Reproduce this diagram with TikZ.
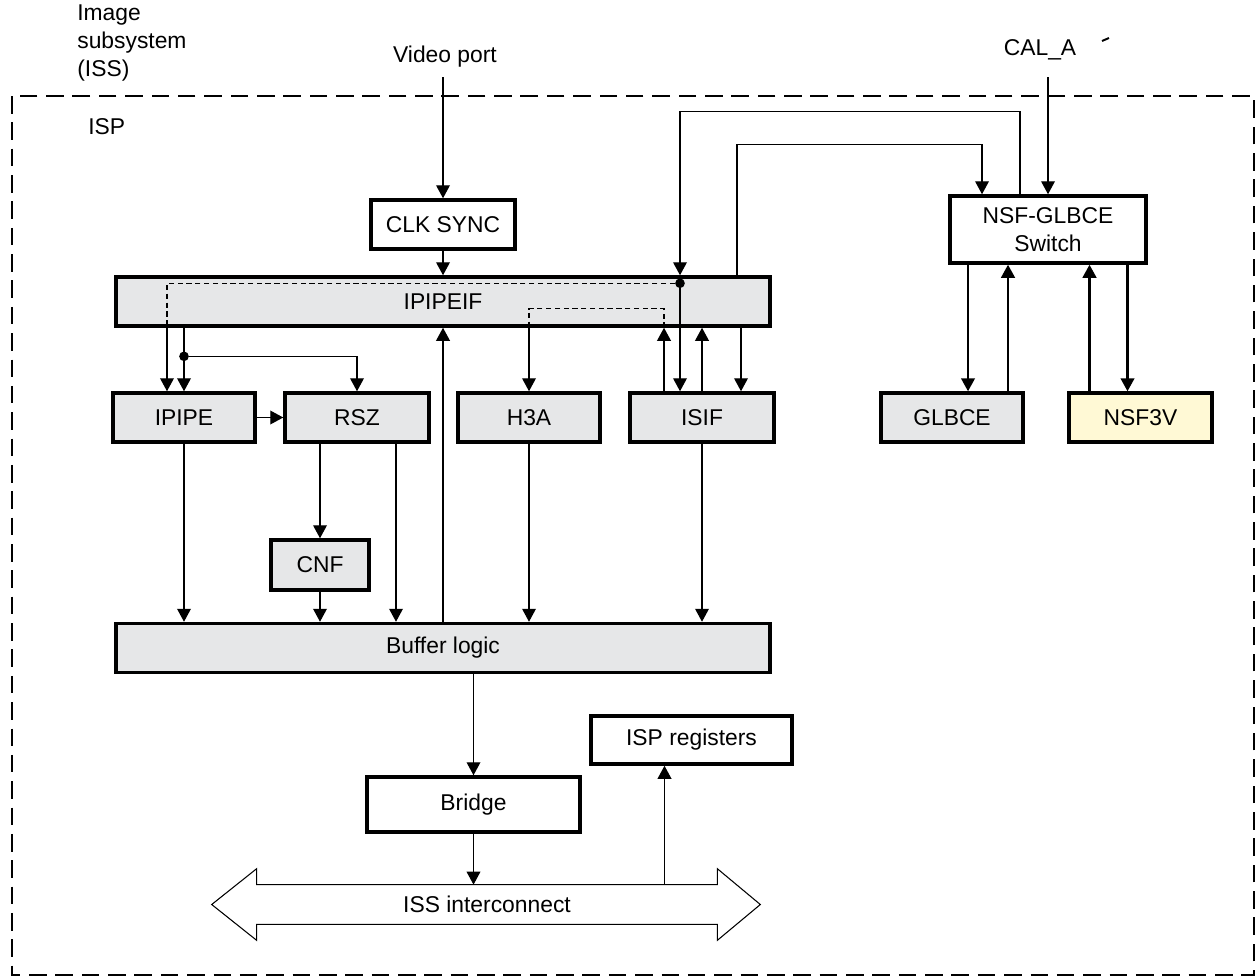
\documentclass[tikz,border=0pt]{standalone}
\usepackage{fontspec}
\setmainfont{Liberation Sans}
\usepackage{tikz}
\usetikzlibrary{arrows.meta,positioning,calc}
\definecolor{blkgray}{HTML}{E6E7E8}
\definecolor{nsfyellow}{HTML}{FFF9D5}

\begin{document}
\begin{tikzpicture}[
    x=0.02cm, y=-0.02cm,
    every node/.style={font=\fontsize{13}{16.2}\selectfont},
    blk/.style={draw, line width=2pt, fill=blkgray, minimum height=0.98cm, inner sep=0pt},
    wblk/.style={blk, fill=white},
    conn/.style={line width=0.75pt, -{Triangle[length=7.4pt,width=7.8pt]}},
    bus/.style={conn, line width=1.2pt},
    dsh/.style={line width=0.75pt, dash pattern=on 3pt off 2pt},
    jn/.style={circle, fill=black, inner sep=0pt, minimum size=5.5pt}
]
\useasboundingbox (0,0) rectangle (1256,977);

% frame and labels
\draw[line width=1.4pt, dash pattern=on 10pt off 5pt] (12,96) rectangle (1254,975);
\node[align=left, anchor=west, inner sep=0pt] (isslbl) at (77,43) {Image\\subsystem\\(ISS)};
\node[anchor=west, inner sep=0pt] (isplbl) at (88,127) {ISP};
\node[inner sep=0pt] (vport) at (445,57) {Video port};
\node[inner sep=0pt] (cala) at (1040,50) {CAL\_A};
\draw[line width=1.1pt] (1102,41) -- (1109,38);

% blocks
\node[wblk, minimum width=2.88cm] (clk) at (443,224.5) {CLK SYNC};
\node[blk, minimum width=13.08cm] (ipipeif) at (443,301.5) {IPIPEIF};
\node[blk, minimum width=2.85cm] (ipipe) at (184,417.5) {IPIPE};
\node[blk, minimum width=2.88cm] (rsz) at (357,417.5) {RSZ};
\node[blk, minimum width=2.84cm] (h3a) at (529,417.5) {H3A};
\node[blk, minimum width=2.88cm] (isif) at (702,417.5) {ISIF};
\node[blk, minimum width=2.84cm] (glbce) at (952,417.5) {GLBCE};
\node[blk, fill=nsfyellow, minimum width=2.86cm] (nsf) at (1140.5,417.5) {NSF3V};
\node[wblk, minimum width=3.92cm, minimum height=1.34cm, align=center] (sw) at (1048,229.5) {NSF-GLBCE\\Switch};
\node[blk, minimum width=1.96cm, minimum height=1cm] (cnf) at (320,565) {CNF};
\node[blk, minimum width=13.08cm] (buf) at (443,648) {Buffer logic};
\node[wblk, minimum width=4.26cm, minimum height=1.1cm] (bridge) at (473.5,804.5) {Bridge};
\node[wblk, minimum width=4.02cm, minimum height=0.96cm] (reg) at (691.5,740) {ISP registers};

% interconnect bus
\node[minimum width=9.2cm, minimum height=0.78cm, inner sep=0pt] (iss) at (487,904.5) {ISS interconnect};
\draw[line width=0.6pt, line join=miter] (iss.north west) -- (iss.north east) -- ++(0,-16)
    -- ($(iss.east)+(43,0)$) -- ($(iss.south east)+(0,16)$) -- (iss.south east)
    -- (iss.south west) -- ++(0,16) -- ($(iss.west)+(-45,0)$)
    -- ($(iss.north west)+(0,-16)$) -- cycle;

% inputs
\coordinate (vin) at (443,77);
\coordinate (calin) at (1048,77);
\draw[conn] (vin) -- (clk);
\draw[conn] (clk) -- (ipipeif);
\draw[conn] (calin) -- (sw.north);

% IPIPEIF to IPIPE and RSZ
\draw[conn] (ipipeif.south -| ipipe) -- (ipipe.north);
\node[jn] (j1) at ($(ipipeif.south -| ipipe)!0.45!(ipipe.north)$) {};
\draw[conn] (j1) -| (rsz.north);
\draw[conn] (ipipe) -- (rsz);

% switch loops
\node[jn] (j2) at ($(ipipeif.north -| isif)+(-22,8)$) {};
\draw[conn] ($(sw.north)+(-28,0)$) -- ++(0,-83) -| (ipipeif.north -| j2);
\draw[conn] ($(ipipeif.north)+(294,0)$) -- ++(0,-131) -| ($(sw.north)+(-66,0)$);
\draw[dsh] (j2) -| ($(ipipeif.south -| ipipe)+(-17,0)$);
\draw[conn] ($(ipipeif.south -| ipipe)+(-17,0)$) -- ($(ipipe.north)+(-17,0)$);
\draw[conn] (j2) -- (isif.north -| j2);

% ISIF and H3A
\draw[dsh] ($(ipipeif.south -| isif)+(-38,0)$) -- ++(0,-19) -| (ipipeif.south -| h3a);
\draw[conn] (ipipeif.south -| h3a) -- (h3a.north);
\draw[conn] ($(isif.north)+(-38,0)$) -- ($(ipipeif.south -| isif)+(-38,0)$);
\draw[conn] (isif.north) -- (ipipeif.south -| isif);
\draw[conn] ($(ipipeif.south -| isif)+(39,0)$) -- ($(isif.north)+(39,0)$);

% to buffer logic
\draw[conn] (ipipe.south) -- (buf.north -| ipipe);
\draw[conn] (rsz.south -| cnf) -- (cnf.north);
\draw[conn] (cnf) -- (buf.north -| cnf);
\draw[conn] ($(rsz.south)+(39,0)$) -- ($(buf.north -| rsz)+(39,0)$);
\draw[conn] (buf) -- (ipipeif);
\draw[conn] (h3a) -- (buf.north -| h3a);
\draw[conn] (isif) -- (buf.north -| isif);

% bridge and registers
\draw[conn] (buf.south -| bridge) -- (bridge);
\draw[conn] (bridge) -- (iss.north -| bridge);
\draw[conn] ($(iss.north -| reg)+(-27,0)$) -- ($(reg.south)+(-27,0)$);

% switch to GLBCE / NSF3V
\draw[bus] ($(sw.south -| glbce)+(16,0)$) -- ($(glbce.north)+(16,0)$);
\draw[bus] ($(glbce.north)+(56,0)$) -- ($(sw.south -| glbce)+(56,0)$);
\draw[bus] ($(nsf.north)+(-51,0)$) -- ($(sw.south -| nsf)+(-51,0)$);
\draw[bus] ($(sw.south -| nsf)+(-13,0)$) -- ($(nsf.north)+(-13,0)$);
\end{tikzpicture}
\end{document}
